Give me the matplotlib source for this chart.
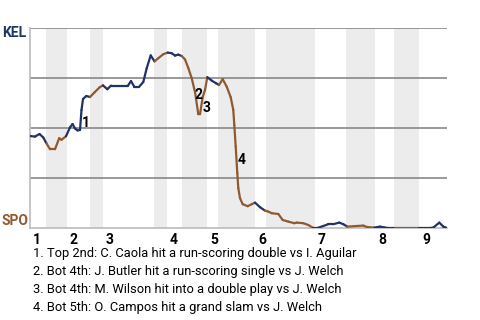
import matplotlib
matplotlib.use("Agg")
import matplotlib.pyplot as plt
from matplotlib.collections import LineCollection
import numpy as np

# half-inning boundaries along the game (progress units), top/bottom alternating
half_innings = [0, 16, 37, 60, 73, 124, 137, 152, 177, 188, 225, 236, 285, 316, 345, 364, 389, 417]
inning_labels = ["1", "2", "3", "4", "5", "6", "7", "8", "9"]

# KEL win probability (%) over the game
progress = [0, 5, 9.5, 13.2, 16.5, 20, 25, 29.2, 31.5, 36, 40, 42.5, 45, 47.5, 50, 51.5, 53,
            56.3, 60, 64.7, 69.7, 73, 77.3, 81, 98, 101, 104.2, 109.3, 113.3, 116.7, 120.7,
            124.5, 128.3, 133.3, 137.7, 141.7, 145, 148.3, 151.7, 155, 158.3, 161.7, 165,
            168.3, 170, 172.7, 175, 177.3, 181.7, 186, 189, 192.7, 196.7, 200.7, 203.3,
            204.3, 205.7, 207.3, 208.3, 210, 212.7, 217.7, 221.7, 225, 230, 235, 238.3,
            241.7, 248.3, 252.7, 258.3, 264.3, 266.7, 273.3, 278.3, 283.3, 287.3, 293.3,
            298.3, 303.3, 309.3, 313.3, 317.3, 333.3, 337, 344.3, 350, 354, 358.3, 365,
            389, 400, 403.3, 409.3, 413.3, 417]
kel_wp = [46, 45.7, 47, 45.3, 42.3, 39.4, 39.4, 44.9, 44.1, 45.9, 50.3, 52, 49.8, 48.8, 49,
          59, 64.5, 66, 65.5, 67.9, 70.4, 71.3, 69.4, 71.2, 71.2, 73.5, 70.7, 70.7, 73, 79.9,
          86.3, 83.3, 84.9, 86.9, 87.7, 87.4, 86.2, 86.7, 86, 84.3, 80, 74.9, 68, 56.9, 56.9,
          65.5, 69, 75.4, 73.7, 72.4, 71.5, 74.4, 70.7, 65.4, 59, 51.5, 40.7, 27.4, 19.9,
          14.9, 11.9, 10.9, 11.9, 12.7, 10.4, 8.7, 8.2, 7.4, 7, 4, 3.2, 2.4, 2.7, 2.4, 1.5,
          0, 0, 1, 1.9, 1.9, 2.7, 1.9, 0.7, 1.2, 0.5, 0.2, 0.7, 0.3, 0, 0, 0, 0, 0.2, 2.7,
          0.7, 0]

events = ["1. Top 2nd: C. Caola hit a run-scoring double vs I. Aguilar",
          "2. Bot 4th: J. Butler hit a run-scoring single vs J. Welch",
          "3. Bot 4th: M. Wilson hit into a double play vs J. Welch",
          "4. Bot 5th: O. Campos hit a grand slam vs J. Welch"]
event_marks = ["1", "2", "3", "4"]
event_x = [56, 169, 177, 212]
event_y = [52.5, 66.5, 60, 34]

away_color = "#1f3366"
home_color = "#8f5a30"
band_color = "#ececec"
grid_color = "#888888"

plt.rcParams["font.family"] = ["Roboto", "DejaVu Sans"]

fig = plt.figure(figsize=(4.8, 3.2), dpi=100)
ax = fig.add_axes([30 / 480, 1 - 228 / 320, 417 / 480, 200 / 320])

# shade bottom halves
for i in range(1, len(half_innings) - 1, 2):
    ax.axvspan(half_innings[i], half_innings[i + 1], color=band_color, lw=0, zorder=0)

for yv in [25, 50, 75, 100]:
    ax.axhline(yv, color=grid_color, lw=1.2, zorder=1)

# color each segment by the team batting
x = np.array(progress)
y = np.clip(np.array(kel_wp), 0, 100)
segs, cols = [], []
for i in range(len(x) - 1):
    mid = (x[i] + x[i + 1]) / 2
    half = np.searchsorted(half_innings, mid, side="right") - 1
    segs.append([(x[i], y[i]), (x[i + 1], y[i + 1])])
    cols.append(away_color if half % 2 == 0 else home_color)
lc = LineCollection(segs, colors=cols, linewidths=1.6, zorder=3, capstyle="round")
ax.add_collection(lc)

for m, ex, ey in zip(event_marks, event_x, event_y):
    ax.text(ex, ey, m, fontsize=10, fontweight="bold", ha="center", va="center", zorder=4)

ax.set_xlim(0, 417)
ax.set_ylim(0, 100)
ax.set_xticks([])
ax.set_yticks([])
for s in ["top", "right"]:
    ax.spines[s].set_visible(False)
ax.spines["left"].set_color("#bbbbbb")
ax.spines["bottom"].set_color("#bbbbbb")
ax.spines["left"].set_linewidth(1.2)
ax.spines["bottom"].set_linewidth(1.2)

for lab, start in zip(inning_labels, half_innings[0::2]):
    ax.text(start + 3, -2.5, lab, fontsize=10, fontweight="bold", ha="left", va="top",
            clip_on=False)

fig.text(2 / 480, 1 - 33 / 320, "KEL", fontsize=10, fontweight="bold", color=away_color,
         ha="left", va="center")
fig.text(2 / 480, 1 - 221 / 320, "SPO", fontsize=10, fontweight="bold", color=home_color,
         ha="left", va="center")

for i, ev in enumerate(events):
    fig.text(33 / 480, 1 - (254 + i * 17.7) / 320, ev, fontsize=9.3, ha="left", va="center")

fig.savefig("out.png", dpi=100)
